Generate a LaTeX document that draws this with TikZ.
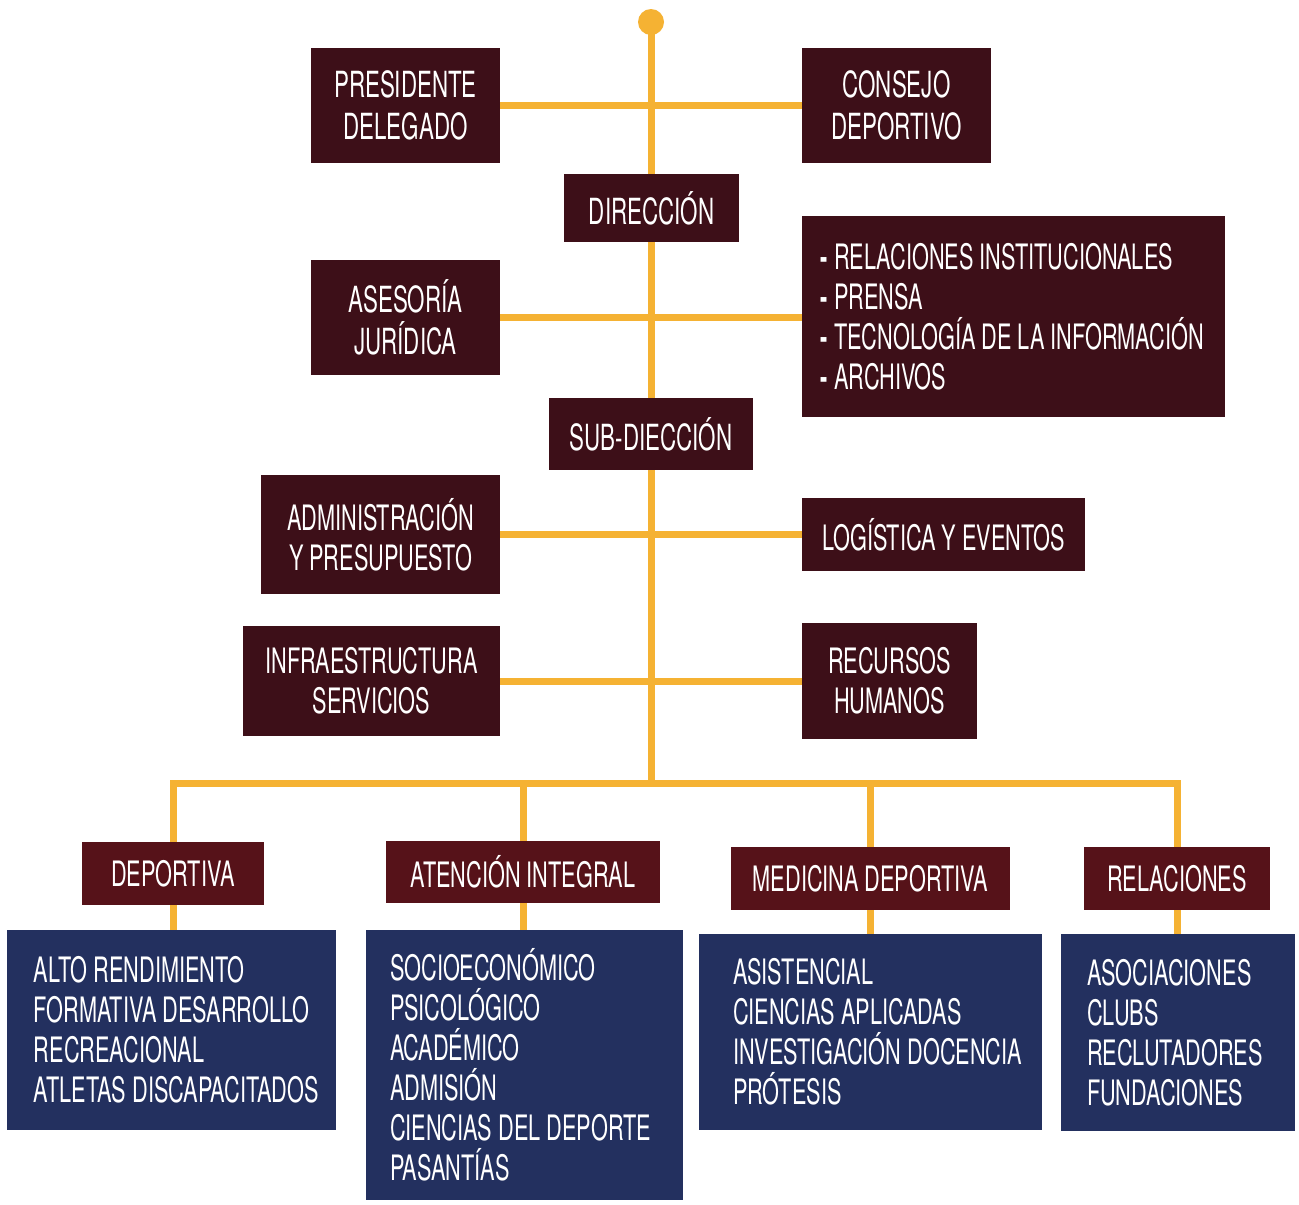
\documentclass[tikz,border=0pt]{standalone}
\usepackage{fontspec}
\setmainfont{TeX Gyre Heros}[FakeStretch=0.62]
\usetikzlibrary{backgrounds}
\definecolor{maroon}{HTML}{3D0F18}
\definecolor{maroonmid}{HTML}{561219}
\definecolor{navy}{HTML}{23305F}
\definecolor{gold}{HTML}{F5B233}
\newcommand{\listdash}{\textbf{-}\hspace{7pt}}
\tikzset{
  conn/.style={draw=gold, line width=7pt},
  topbox/.style={fill=maroon, text=white, align=center, inner sep=0pt,
    font=\fontsize{36}{42}\selectfont},
  midbox/.style={fill=maroonmid, text=white, align=center, inner sep=0pt,
    font=\fontsize{35}{40}\selectfont},
  bluebox/.style={fill=navy, inner sep=0pt},
  listtext/.style={text=white, align=left, inner sep=0pt, anchor=west,
    font=\fontsize{35}{40}\selectfont},
}
\begin{document}
\begin{tikzpicture}[x=1pt,y=-1pt]
\useasboundingbox (0,0) rectangle (1299,1205);
% top level
\node[topbox, minimum width=189pt, minimum height=115pt] (pres) at (405.5,105.5) {PRESIDENTE\\DELEGADO};
\node[topbox, minimum width=189pt, minimum height=115pt] (cons) at (896.5,105.5) {CONSEJO\\DEPORTIVO};
\node[topbox, minimum width=175pt, minimum height=68pt] (dir) at (651.5,208) {DIRECCIÓN};
\node[topbox, minimum width=189pt, minimum height=115pt] (ases) at (405.5,317.5) {ASESORÍA\\JURÍDICA};
\node[topbox, minimum width=423pt, minimum height=201pt] (list) at (1013.5,316.5) {};
\node[listtext] (listt) at ([xshift=18pt]list.west)
  {\listdash RELACIONES INSTITUCIONALES\\\listdash PRENSA\\\listdash TECNOLOGÍA DE LA INFORMACIÓN\\\listdash ARCHIVOS};
\node[topbox, minimum width=204pt, minimum height=72pt] (sub) at (651,434) {SUB-DIECCIÓN};
\node[topbox, minimum width=239pt, minimum height=119pt, font=\fontsize{35}{40}\selectfont] (adm) at (380.5,534.5) {ADMINISTRACIÓN\\Y PRESUPUESTO};
\node[topbox, minimum width=283pt, minimum height=73pt, font=\fontsize{35}{40}\selectfont] (log) at (943.5,534.5) {LOGÍSTICA Y EVENTOS};
\node[topbox, minimum width=257pt, minimum height=110pt, font=\fontsize{35}{40}\selectfont] (inf) at (371.5,681) {INFRAESTRUCTURA\\SERVICIOS};
\node[topbox, minimum width=175pt, minimum height=116pt, font=\fontsize{35}{40}\selectfont] (rh) at (889.5,681) {RECURSOS\\HUMANOS};
% middle level
\node[midbox, minimum width=182pt, minimum height=63pt] (dep) at (173,873.5) {DEPORTIVA};
\node[midbox, minimum width=274pt, minimum height=62pt] (aten) at (523,872) {ATENCIÓN INTEGRAL};
\node[midbox, minimum width=279pt, minimum height=63pt] (med) at (870.5,878.5) {MEDICINA DEPORTIVA};
\node[midbox, minimum width=186pt, minimum height=63pt] (rel) at (1177,878.5) {RELACIONES};
% blue boxes
\node[bluebox, minimum width=329pt, minimum height=200pt] (bdep) at (171.5,1030) {};
\node[listtext] (bdept) at ([xshift=27pt]bdep.west)
  {ALTO RENDIMIENTO\\FORMATIVA DESARROLLO\\RECREACIONAL\\ATLETAS DISCAPACITADOS};
\node[bluebox, minimum width=317pt, minimum height=270pt] (baten) at (524.5,1065) {};
\node[listtext] (batent) at ([xshift=24pt]baten.west)
  {SOCIOECONÓMICO\\PSICOLÓGICO\\ACADÉMICO\\ADMISIÓN\\CIENCIAS DEL DEPORTE\\PASANTÍAS};
\node[bluebox, minimum width=343pt, minimum height=196pt] (bmed) at (870.5,1032) {};
\node[listtext] (bmedt) at ([xshift=34pt]bmed.west)
  {ASISTENCIAL\\CIENCIAS APLICADAS\\INVESTIGACIÓN DOCENCIA\\PRÓTESIS};
\node[bluebox, minimum width=234pt, minimum height=197pt] (brel) at (1178,1032.5) {};
\node[listtext] (brelt) at ([xshift=26pt]brel.west)
  {ASOCIACIONES\\CLUBS\\RECLUTADORES\\FUNDACIONES};
% connectors
\node[circle, fill=gold, minimum size=26pt, inner sep=0pt] (dot) at (651,22) {};
\coordinate (trunk) at (651,783);
\begin{scope}[on background layer]
\fill[white] (0,0) rectangle (1299,1205);
\draw[conn] (dot.center) -- (trunk);
\draw[conn] (pres.east) -- (cons.west);
\draw[conn] (ases.east) -- (ases.east -| list.west);
\draw[conn] (adm.east) -- (adm.east -| log.west);
\draw[conn] (inf.east) -- (rh.west);
\draw[conn] (dep.north) |- (trunk);
\draw[conn] (rel.north) |- (trunk);
\draw[conn] (aten.north) -- (aten.north |- trunk);
\draw[conn] (med.north) -- (med.north |- trunk);
\draw[conn] (dep.south) -- (dep.south |- bdep.north);
\draw[conn] (aten.south) -- (aten.south |- baten.north);
\draw[conn] (med.south) -- (med.south |- bmed.north);
\draw[conn] (rel.south) -- (rel.south |- brel.north);
\end{scope}
\end{tikzpicture}
\end{document}
